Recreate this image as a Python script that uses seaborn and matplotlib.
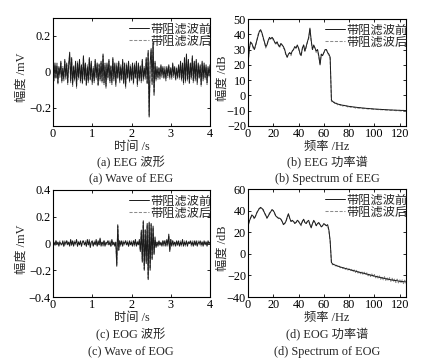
import matplotlib
matplotlib.use("Agg")
import matplotlib.pyplot as plt
import numpy as np
import pandas as pd
import seaborn as sns
from matplotlib.ticker import FuncFormatter

sns.set_style("ticks")
plt.rcParams["font.family"] = ["Liberation Serif", "Noto Sans CJK SC"]
plt.rcParams["axes.unicode_minus"] = True

FS = 8.8

# ---- waveforms, sampled every 0.025 s over 0..4 s (mV) ----
eeg_before = [
    0.02, -0.04, 0.05, -0.03, 0.04, -0.06, 0.03, -0.02, 0.06, -0.05, 0.02, -0.04, 0.07, -0.03, 0.05, -0.06, 0.04,
    0.11, -0.05, 0.08, -0.07, 0.03, -0.04, 0.06, -0.08, 0.05, -0.03, 0.07, -0.05, 0.04, -0.06, 0.09, -0.04,
    0.05, -0.07, 0.03, -0.05, 0.08, -0.04, 0.06, -0.06, 0.02, -0.05, 0.07, -0.03, 0.05, -0.07, 0.04, -0.04,
    0.06, -0.05, 0.10, -0.06, 0.04, -0.08, 0.05, -0.03, 0.07, -0.05, 0.03, -0.06, 0.08, -0.04, 0.05, -0.07,
    0.04, -0.03, 0.06, -0.05, 0.03, -0.04, 0.07, -0.06, 0.05, -0.08, 0.04, -0.03, 0.06, -0.05, 0.03, -0.04,
    0.05, -0.06, 0.04, -0.03, 0.06, -0.07, 0.05, -0.04, 0.03, -0.05, 0.07, -0.04, 0.02, -0.03, 0.08, -0.06,
    0.12, -0.25, 0.05, 0.13, -0.06, 0.17, -0.12, 0.06, -0.04, 0.03, -0.03, 0.02, -0.03, 0.04, -0.02, 0.03,
    -0.03, 0.02, -0.04, 0.03, -0.02, 0.04, -0.03, 0.02, -0.03, 0.05, -0.02, 0.03, -0.04, 0.02, -0.03, 0.04,
    -0.03, 0.06, -0.04, 0.05, -0.06, 0.08, -0.05, 0.10, -0.04, 0.07, -0.06, 0.05, -0.03, 0.09, -0.05, 0.06,
    -0.04, 0.07, -0.06, 0.05, -0.03, 0.04, -0.07, 0.06, -0.04, 0.05, -0.03, 0.04, -0.06, 0.03, -0.02, 0.04,
]
eeg_after = [
    0.01, -0.05, 0.04, -0.04, 0.05, -0.07, 0.02, -0.03, 0.05, -0.06, 0.03, -0.05, 0.06, -0.04, 0.04, -0.07, 0.05,
    0.09, -0.06, 0.07, -0.08, 0.04, -0.05, 0.05, -0.09, 0.06, -0.04, 0.06, -0.06, 0.03, -0.07, 0.08, -0.05,
    0.04, -0.08, 0.04, -0.06, 0.07, -0.05, 0.05, -0.07, 0.03, -0.06, 0.06, -0.04, 0.04, -0.08, 0.05, -0.05,
    0.05, -0.06, 0.09, -0.07, 0.05, -0.09, 0.04, -0.04, 0.06, -0.06, 0.04, -0.07, 0.07, -0.05, 0.04, -0.08,
    0.05, -0.04, 0.05, -0.06, 0.04, -0.05, 0.06, -0.07, 0.04, -0.09, 0.05, -0.04, 0.05, -0.06, 0.04, -0.05,
    0.04, -0.07, 0.05, -0.04, 0.05, -0.08, 0.04, -0.05, 0.04, -0.06, 0.06, -0.05, 0.03, -0.04, 0.07, -0.07,
    0.11, -0.24, 0.04, 0.12, -0.07, 0.16, -0.13, 0.05, -0.05, 0.02, -0.04, 0.03, -0.04, 0.03, -0.03, 0.02,
    -0.04, 0.03, -0.05, 0.02, -0.03, 0.03, -0.04, 0.03, -0.04, 0.04, -0.03, 0.02, -0.05, 0.03, -0.04, 0.03,
    -0.04, 0.05, -0.05, 0.04, -0.07, 0.07, -0.06, 0.09, -0.05, 0.06, -0.07, 0.04, -0.04, 0.08, -0.06, 0.05,
    -0.05, 0.06, -0.07, 0.04, -0.04, 0.03, -0.08, 0.05, -0.05, 0.04, -0.04, 0.03, -0.07, 0.02, -0.03, 0.03,
]
eog_before = [
    0.00, 0.01, -0.01, 0.02, -0.01, 0.01, -0.02, 0.01, 0.00, -0.01, 0.02, -0.02, 0.01, 0.00, 0.02, -0.01, 0.01,
    -0.02, 0.03, -0.01, 0.02, -0.02, 0.01, 0.00, 0.03, -0.02, 0.01, -0.01, 0.02, -0.02, 0.01, 0.02, -0.01,
    0.01, -0.02, 0.03, -0.01, 0.02, -0.03, 0.01, 0.02, -0.02, 0.01, -0.01, 0.03, -0.02, 0.02, -0.01, 0.04,
    -0.02, 0.01, -0.01, 0.02, -0.02, 0.01, 0.00, 0.02, -0.01, 0.01, -0.02, 0.03, -0.01, 0.01, -0.02, 0.01,
    -0.17, 0.14, -0.05, 0.02, -0.01, 0.02, -0.02, 0.01, 0.00, 0.02, -0.01, 0.01, -0.02, 0.02, -0.01, 0.01,
    -0.02, 0.02, -0.01, 0.03, -0.02, 0.01, -0.01, 0.03, -0.06, 0.10, -0.14, 0.17, -0.20, 0.10, -0.15, 0.15,
    -0.27, 0.16, -0.20, 0.15, -0.12, 0.13, -0.08, 0.04, -0.03, 0.01, -0.02, 0.02, -0.01, 0.01, -0.02, 0.02,
    -0.01, 0.02, -0.02, 0.03, -0.01, 0.07, -0.06, 0.03, -0.02, 0.02, -0.01, 0.01, -0.02, 0.02, -0.01, 0.02,
    -0.02, 0.01, -0.01, 0.03, -0.02, 0.01, -0.01, 0.02, -0.02, 0.01, 0.00, 0.02, -0.01, 0.01, -0.02, 0.02,
    -0.01, 0.02, -0.02, 0.01, 0.00, 0.02, -0.01, 0.01, -0.02, 0.02, -0.01, 0.01, -0.02, 0.02, 0.00, 0.01,
]
eog_after = [
    0.01, 0.00, -0.02, 0.02, 0.00, 0.01, -0.01, 0.02, -0.01, -0.01, 0.01, -0.02, 0.02, -0.01, 0.02, 0.00, 0.01,
    -0.01, 0.02, -0.02, 0.02, -0.01, 0.02, -0.01, 0.02, -0.02, 0.02, -0.01, 0.01, -0.02, 0.02, 0.01, -0.01,
    0.02, -0.02, 0.02, -0.01, 0.03, -0.02, 0.01, 0.01, -0.02, 0.02, -0.01, 0.02, -0.02, 0.01, -0.01, 0.03,
    -0.01, 0.01, -0.02, 0.02, -0.01, 0.01, -0.01, 0.02, -0.01, 0.02, -0.02, 0.02, -0.01, 0.01, -0.01, 0.01,
    -0.16, 0.13, -0.05, 0.02, -0.02, 0.02, -0.01, 0.02, -0.01, 0.02, -0.01, 0.02, -0.02, 0.01, -0.01, 0.02,
    -0.01, 0.02, -0.02, 0.02, -0.02, 0.02, -0.01, 0.02, -0.05, 0.09, -0.13, 0.16, -0.19, 0.11, -0.14, 0.14,
    -0.26, 0.15, -0.19, 0.14, -0.11, 0.12, -0.08, 0.05, -0.02, 0.01, -0.01, 0.02, -0.02, 0.01, -0.01, 0.02,
    -0.02, 0.02, -0.01, 0.02, -0.02, 0.06, -0.05, 0.03, -0.01, 0.02, -0.02, 0.01, -0.01, 0.02, -0.02, 0.01,
    -0.01, 0.02, -0.02, 0.02, -0.01, 0.02, -0.02, 0.01, -0.01, 0.02, -0.01, 0.01, -0.02, 0.02, -0.01, 0.01,
    -0.02, 0.01, -0.01, 0.02, -0.01, 0.01, -0.02, 0.02, -0.01, 0.01, -0.01, 0.02, -0.01, 0.01, -0.01, 0.01,
]

# ---- power spectra, 1 Hz steps over 0..125 Hz (dB) ----
eeg_psd_before = [
    20, 30, 35, 34, 32, 30, 33, 36, 39, 42, 43, 41, 38, 35, 32, 33, 36, 38, 37, 38,
    37, 35, 34, 35, 33, 32, 34, 33, 32, 30, 27, 25, 27, 28, 27, 29, 30, 32, 31, 33,
    31, 28, 26, 31, 33, 29, 32, 35, 38, 44, 36, 30, 33, 31, 29, 30, 26, 20, 27, 26,
    28, 30, 30, 28, 27, 25,
    -3.0, -4.0, -4.6, -5.0, -5.4, -5.6, -5.9, -6.0, -6.3, -6.4,
    -6.6, -6.7, -6.9, -7.0, -7.2, -7.2, -7.4, -7.5, -7.6, -7.7,
    -7.8, -7.9, -8.0, -8.0, -8.2, -8.2, -8.3, -8.4, -8.5, -8.5,
    -8.6, -8.7, -8.7, -8.8, -8.9, -8.9, -9.0, -9.0, -9.1, -9.1,
    -9.2, -9.2, -9.3, -9.3, -9.4, -9.4, -9.5, -9.5, -9.5, -9.6,
    -9.6, -9.6, -9.7, -9.7, -9.7, -9.8, -9.8, -9.8, -9.9, -9.9,
]
eeg_psd_after = [
    21, 31, 34, 34, 31, 30, 32, 36, 40, 42, 42, 41, 37, 35, 31, 33, 36, 37, 37, 38,
    36, 35, 33, 35, 33, 31, 34, 33, 31, 30, 26, 25, 27, 28, 26, 29, 30, 31, 31, 32,
    31, 27, 26, 30, 33, 29, 31, 35, 37, 43, 35, 30, 32, 31, 28, 30, 25, 21, 27, 26,
    28, 29, 30, 28, 26, 24,
    -3.8, -4.8, -4.2, -5.8, -5.0, -6.2, -5.6, -6.6, -6.0, -7.0,
    -6.4, -7.3, -6.8, -7.6, -7.1, -7.8, -7.4, -8.1, -7.7, -8.3,
    -8.0, -8.4, -8.2, -8.6, -8.4, -8.7, -8.5, -8.8, -8.7, -8.9,
    -8.8, -9.0, -8.9, -9.1, -9.0, -9.2, -9.1, -9.3, -9.2, -9.4,
    -9.3, -9.5, -9.4, -9.6, -9.5, -9.7, -9.6, -9.8, -9.7, -9.9,
    -9.8, -10.0, -9.9, -10.1, -10.0, -10.2, -10.1, -10.2, -10.2, -10.3,
]
eog_psd_before = [
    25, 30, 33, 36, 35, 33, 35, 38, 40, 42, 43, 42, 41, 38, 36, 33, 35, 37, 39, 41,
    40, 38, 35, 34, 33, 33, 32, 30, 27, 28, 30, 34, 37, 33, 30, 31, 30, 28, 29, 31,
    30, 28, 27, 30, 32, 29, 28, 30, 31, 27, 24, 28, 31, 29, 26, 28, 29, 27, 25, 26,
    28, 27, 26, 27, 22, 12,
    -8.0, -9.5, -10.0, -10.5, -11.0, -11.4, -11.8, -12.2, -12.5, -12.9,
    -13.2, -13.6, -13.9, -14.2, -14.5, -14.8, -15.2, -15.5, -15.8, -16.1,
    -16.4, -16.7, -17.0, -17.3, -17.6, -17.9, -18.2, -18.5, -18.8, -19.1,
    -19.4, -19.7, -20.0, -20.3, -20.6, -20.9, -21.2, -21.5, -21.8, -22.1,
    -22.3, -22.6, -22.8, -23.1, -23.3, -23.5, -23.8, -24.0, -24.2, -24.4,
    -24.6, -24.8, -25.0, -25.2, -25.4, -25.5, -25.7, -25.8, -26.0, -26.1,
]
eog_psd_after = [
    24, 31, 33, 35, 35, 32, 35, 38, 41, 42, 42, 42, 40, 38, 35, 33, 35, 38, 39, 40,
    40, 37, 35, 34, 33, 32, 32, 30, 28, 28, 30, 33, 37, 33, 30, 30, 30, 29, 29, 31,
    30, 28, 26, 30, 32, 29, 28, 30, 30, 27, 25, 28, 30, 29, 26, 28, 28, 27, 25, 26,
    27, 27, 26, 26, 21, 11,
    -8.5, -10.2, -9.6, -11.2, -10.6, -12.0, -11.3, -12.9, -12.0, -13.6,
    -12.6, -14.4, -13.2, -15.1, -13.8, -15.8, -14.4, -16.6, -14.9, -17.3,
    -15.3, -17.9, -15.9, -18.5, -16.5, -19.1, -17.0, -19.8, -17.6, -20.4,
    -18.1, -21.0, -18.6, -21.7, -19.2, -22.3, -19.8, -23.0, -20.4, -23.6,
    -20.8, -24.1, -21.2, -24.6, -21.7, -25.1, -22.1, -25.6, -22.6, -26.1,
    -23.0, -26.6, -23.4, -27.0, -23.8, -27.3, -24.1, -27.6, -24.4, -27.9,
]

legend_labels = ["带阻滤波前", "带阻滤波后"]
captions = [
    ("(a) EEG 波形", "(a) Wave of EEG"),
    ("(b) EEG 功率谱", "(b) Spectrum of EEG"),
    ("(c) EOG 波形", "(c) Wave of EOG"),
    ("(d) EOG 功率谱", "(d) Spectrum of EOG"),
]

t = np.linspace(0, 4, len(eeg_before))
freq = np.arange(len(eeg_psd_before))


def fmt(v, pos):
    return f"{v:g}".replace("-", "\u2212")


def draw(ax, x, before, after, xlim, xticks, ylim, yticks, xlabel, ylabel, ylab_x):
    df = pd.DataFrame({"x": x, "before": before, "after": after})
    # filtered trace goes underneath, raw trace on top
    sns.lineplot(data=df, x="x", y="after", ax=ax, color="#8c8c8c", lw=0.75,
                 linestyle=(0, (3, 1.5)), label=legend_labels[1])
    sns.lineplot(data=df, x="x", y="before", ax=ax, color="#1a1a1a", lw=0.7,
                 label=legend_labels[0])
    ax.set_xlim(*xlim)
    ax.set_ylim(*ylim)
    ax.set_xticks(xticks)
    ax.set_yticks(yticks)
    ax.xaxis.set_major_formatter(FuncFormatter(fmt))
    ax.yaxis.set_major_formatter(FuncFormatter(fmt))
    ax.tick_params(direction="in", top=True, right=True, length=2.5, width=0.6,
                   pad=1.5, labelsize=FS, colors="black")
    for s in ax.spines.values():
        s.set_linewidth(0.8)
        s.set_color("black")
    ax.set_xlabel(xlabel, fontsize=FS, labelpad=1)
    ax.set_ylabel(ylabel, fontsize=FS)
    ax.yaxis.set_label_coords(ylab_x, 0.45)
    h, l = ax.get_legend_handles_labels()
    ax.legend(h[::-1], l[::-1], loc="upper right", bbox_to_anchor=(1.012, 0.95),
              frameon=False, fontsize=FS, handlelength=1.7, handletextpad=0.1,
              labelspacing=0.0, borderaxespad=0.0, borderpad=0.0)


fig = plt.figure(figsize=(4.23, 3.64), dpi=100)
W, H = 423, 364


def box(l, r, top, bot):
    return [l / W, 1 - bot / H, (r - l) / W, (bot - top) / H]


ax_a = fig.add_axes(box(53, 210, 18, 126))
ax_b = fig.add_axes(box(248, 406, 19, 126))
ax_c = fig.add_axes(box(53, 210, 190, 297))
ax_d = fig.add_axes(box(248, 406, 189, 297))

draw(ax_a, t, eeg_before, eeg_after, (0, 4), [0, 1, 2, 3, 4], (-0.3, 0.3),
     [-0.2, 0, 0.2], "时间 /s", "幅度 /mV", -0.16)
draw(ax_b, freq, eeg_psd_before, eeg_psd_after, (0, 125), range(0, 121, 20),
     (-20, 50), range(-20, 51, 10), "频率 /Hz", "幅度 /dB", -0.125)
draw(ax_c, t, eog_before, eog_after, (0, 4), [0, 1, 2, 3, 4], (-0.4, 0.4),
     [-0.4, -0.2, 0, 0.2, 0.4], "时间 /s", "幅度 /mV", -0.16)
draw(ax_d, freq, eog_psd_before, eog_psd_after, (0, 125), range(0, 121, 20),
     (-40, 60), range(-40, 61, 20), "频率 /Hz", "幅度 /dB", -0.125)

for (cn, en), cx, (y1, y2) in zip(
    captions, [131, 327, 131, 327], [(163, 179), (163, 179), (335, 352), (335, 352)]
):
    fig.text(cx / W, 1 - y1 / H, cn, ha="center", va="center", fontsize=FS)
    fig.text(cx / W, 1 - y2 / H, en, ha="center", va="center", fontsize=FS)

fig.savefig("out.png", dpi=100)
